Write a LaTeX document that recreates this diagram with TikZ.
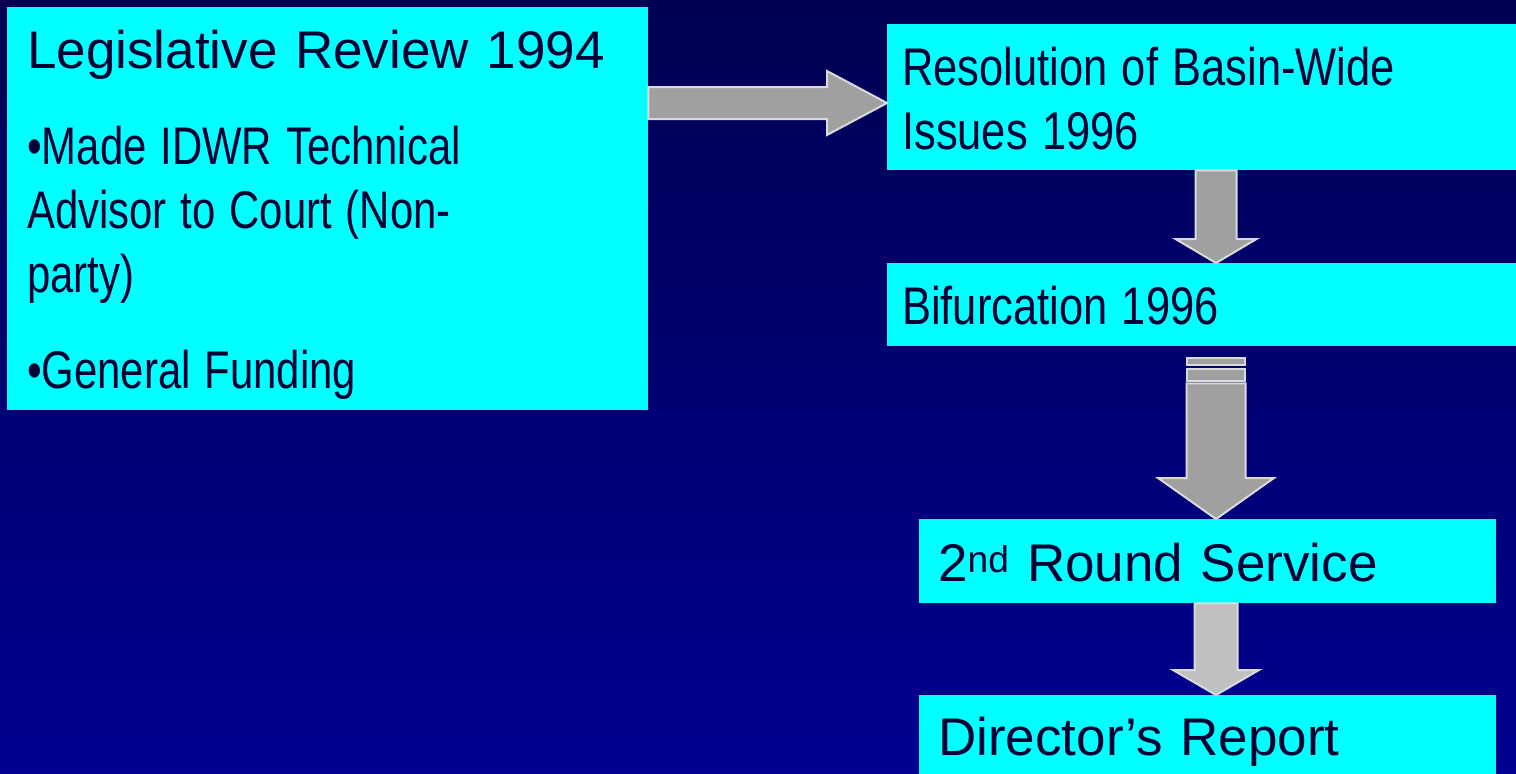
\documentclass[tikz,border=0pt]{standalone}
\usepackage{fontspec}
\setmainfont{Liberation Sans}
\usetikzlibrary{calc,positioning}

\definecolor{slidetop}{RGB}{0,0,82}
\definecolor{slidebot}{RGB}{0,0,145}
\definecolor{boxcyan}{RGB}{0,255,255}
\definecolor{boxtext}{RGB}{0,0,51}
\definecolor{arrowgray}{RGB}{160,160,160}
\definecolor{arrowlight}{RGB}{192,192,192}
\definecolor{arrowedge}{RGB}{218,218,218}

% horizontally squeezed line, as in the slide
\newcommand{\narrowline}[2][0.79]{\scalebox{#1}[1]{#2}}

\tikzset{
  stagebox/.style={fill=boxcyan, text=boxtext, anchor=north west,
    inner ysep=0pt, align=left, font=\fontsize{53}{64}\selectfont},
  blockarrow/.style={draw=arrowedge, line width=2pt, line join=miter}
}

% block arrow pointing down, from #1 to #2
\newcommand{\blockdown}[6]{%
  \draw[blockarrow,#6] let \p1=(#1), \p2=(#2) in
    (\x1-#3,\y1) -- (\x1+#3,\y1) -- (\x1+#3,\y2+#5) -- (\x1+#4,\y2+#5)
    -- (\x1,\y2) -- (\x1-#4,\y2+#5) -- (\x1-#3,\y2+#5) -- cycle;}
% block arrow pointing right, from #1 to #2
\newcommand{\blockright}[6]{%
  \draw[blockarrow,#6] let \p1=(#1), \p2=(#2) in
    (\x1,\y1+#3) -- (\x2-#5,\y1+#3) -- (\x2-#5,\y1+#4) -- (\x2,\y1)
    -- (\x2-#5,\y1-#4) -- (\x2-#5,\y1-#3) -- (\x1,\y1-#3) -- cycle;}

\begin{document}
\begin{tikzpicture}[x=1pt,y=-1pt]
  \useasboundingbox (0,0) rectangle (1516,774);
  \fill[top color=slidetop, bottom color=slidebot] (0,0) rectangle (1516,774);

  % stages
  \node[stagebox, inner xsep=20pt, text width=601pt, text height=61pt, text depth=342pt]
    (review) at (7,7) {Legislative Review 1994\\[32pt]
      \narrowline{•Made IDWR Technical}\\\narrowline{Advisor to Court (Non-}\\\narrowline{party)}\\[32pt]
      \narrowline{•General Funding}};
  \node[stagebox, inner xsep=15pt, text width=599pt, text height=61pt, text depth=85pt]
    (resol) at (887,24) {\narrowline[0.82]{Resolution of Basin-Wide}\\\narrowline[0.82]{Issues 1996}};
  \node[stagebox, inner xsep=15pt, text width=599pt, text height=61pt, text depth=22pt]
    (bifur) at (887,263) {\narrowline[0.82]{Bifurcation 1996}};
  \node[stagebox, inner xsep=19pt, text width=539pt, text height=62pt, text depth=22pt]
    (round) at (919,519) {2\textsuperscript{nd} Round Service};
  \node[stagebox, inner xsep=19pt, text width=539pt, text height=60pt, text depth=19pt]
    (report) at (919,695) {Director’s Report};

  % arrows
  \coordinate (ax) at (1216,0);
  \coordinate (ay) at (0,103);
  \blockright{review.east |- ay}{resol.west |- ay}{16pt}{32pt}{60pt}{fill=arrowgray}
  \blockdown{resol.south -| ax}{bifur.north -| ax}{20.5pt}{40.5pt}{24pt}{fill=arrowgray}
  \draw[blockarrow, fill=arrowgray] ($(bifur.south -| ax)+(-29,12)$) rectangle ($(bifur.south -| ax)+(29,19)$);
  \draw[blockarrow, fill=arrowgray] ($(bifur.south -| ax)+(-29,23)$) rectangle ($(bifur.south -| ax)+(29,35)$);
  \blockdown{$(bifur.south -| ax)+(0,37)$}{round.north -| ax}{29.5pt}{58pt}{41pt}{fill=arrowgray}
  \blockdown{round.south -| ax}{report.north -| ax}{21.5pt}{43pt}{25pt}{fill=arrowlight}
\end{tikzpicture}
\end{document}
